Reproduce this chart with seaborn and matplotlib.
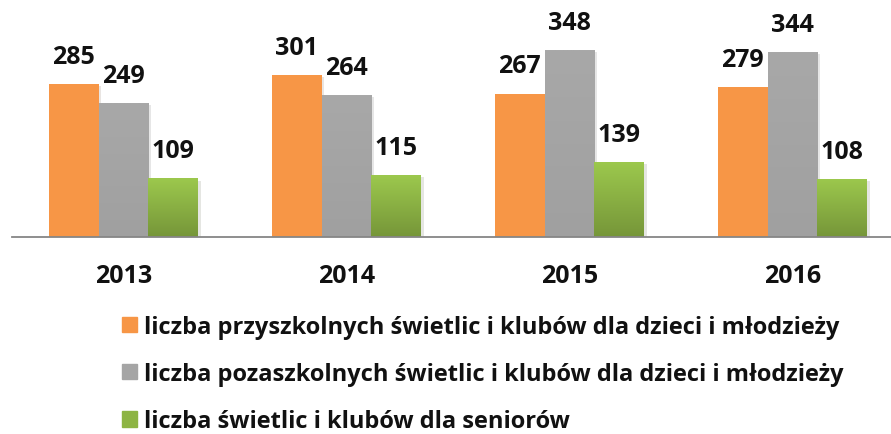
import numpy as np
import pandas as pd
import matplotlib
matplotlib.use('Agg')
import matplotlib.pyplot as plt
import matplotlib.patches as mpatches
import matplotlib.patheffects as pe
import seaborn as sns

years = ['2013', '2014', '2015', '2016']
przyszkolne = [285, 301, 267, 279]
pozaszkolne = [249, 264, 348, 344]
seniorzy = [109, 115, 139, 108]
series = ['liczba przyszkolnych świetlic i klubów dla dzieci i młodzieży',
          'liczba pozaszkolnych świetlic i klubów dla dzieci i młodzieży',
          'liczba świetlic i klubów dla seniorów']
colors = ['#F79646', '#A5A5A5', '#8DB443']

df = pd.DataFrame({
    'rok': years * 3,
    'wartosc': przyszkolne + pozaszkolne + seniorzy,
    'seria': [series[0]] * 4 + [series[1]] * 4 + [series[2]] * 4,
})

sns.set_style('white')
plt.rcParams['font.family'] = ['Open Sans', 'DejaVu Sans']

fig = plt.figure(figsize=(8.91, 4.35), dpi=100)
# plot area runs a little past the right edge, like in the source chart
ax = fig.add_axes([12 / 891, 1 - 238 / 435, 892 / 891, 238 / 435])

sns.barplot(data=df, x='rok', y='wartosc', hue='seria', palette=colors,
            width=0.67, saturation=1, ax=ax, legend=False)

# gradient fill on the gray and green bars, faint shadow on all
grads = {1: ('#A8A8A8', '#A0A0A0'), 2: ('#9CC84D', '#769639')}
for i, cont in enumerate(ax.containers):
    for bar in cont:
        bar.set_edgecolor('none')
        bar.set_path_effects([pe.SimplePatchShadow(offset=(2, -1.5), alpha=0.12), pe.Normal()])
        if i in grads:
            top, bottom = grads[i]
            cmap = matplotlib.colors.LinearSegmentedColormap.from_list('g', [bottom, top])
            x0, y0 = bar.get_x(), bar.get_y()
            w, h = bar.get_width(), bar.get_height()
            grad = np.linspace(0, 1, 100).reshape(-1, 1)
            im = ax.imshow(grad, cmap=cmap, origin='lower', aspect='auto',
                           extent=[x0, x0 + w, y0, y0 + h], zorder=bar.get_zorder())
            im.set_clip_path(bar)
    ax.bar_label(cont, fontsize=18, fontweight='bold', padding=11, color='#111111')

ax.set_xlim(-0.5, 3.5)
ax.set_ylim(0, 443)
ax.set_xlabel('')
ax.set_ylabel('')
ax.set_yticks([])
for s in ['top', 'right', 'left']:
    ax.spines[s].set_visible(False)
ax.spines['bottom'].set_color('#868686')
ax.spines['bottom'].set_linewidth(1.3)
ax.spines['bottom'].set_zorder(5)
ax.set_xticks([-0.5, 0.5, 1.5, 2.5, 3.5], minor=True)
ax.tick_params(axis='x', which='minor', length=7, width=1.3, color='#868686', direction='out')
ax.tick_params(axis='x', which='major', length=0, pad=19, labelsize=18)
for lab in ax.get_xticklabels():
    lab.set_fontweight('bold')
    lab.set_color('#111111')

handles = [mpatches.Patch(color=c) for c in colors]
fig.legend(handles, series, loc='upper left', bbox_to_anchor=(122 / 891, 1 - 316 / 435),
           frameon=False, prop={'size': 17, 'weight': 'bold'}, handlelength=0.62,
           handleheight=0.62, handletextpad=0.3, labelspacing=0.98, borderpad=0,
           borderaxespad=0)
for t in fig.legends[0].get_texts():
    t.set_color('#111111')

fig.savefig('out.png', dpi=100)
